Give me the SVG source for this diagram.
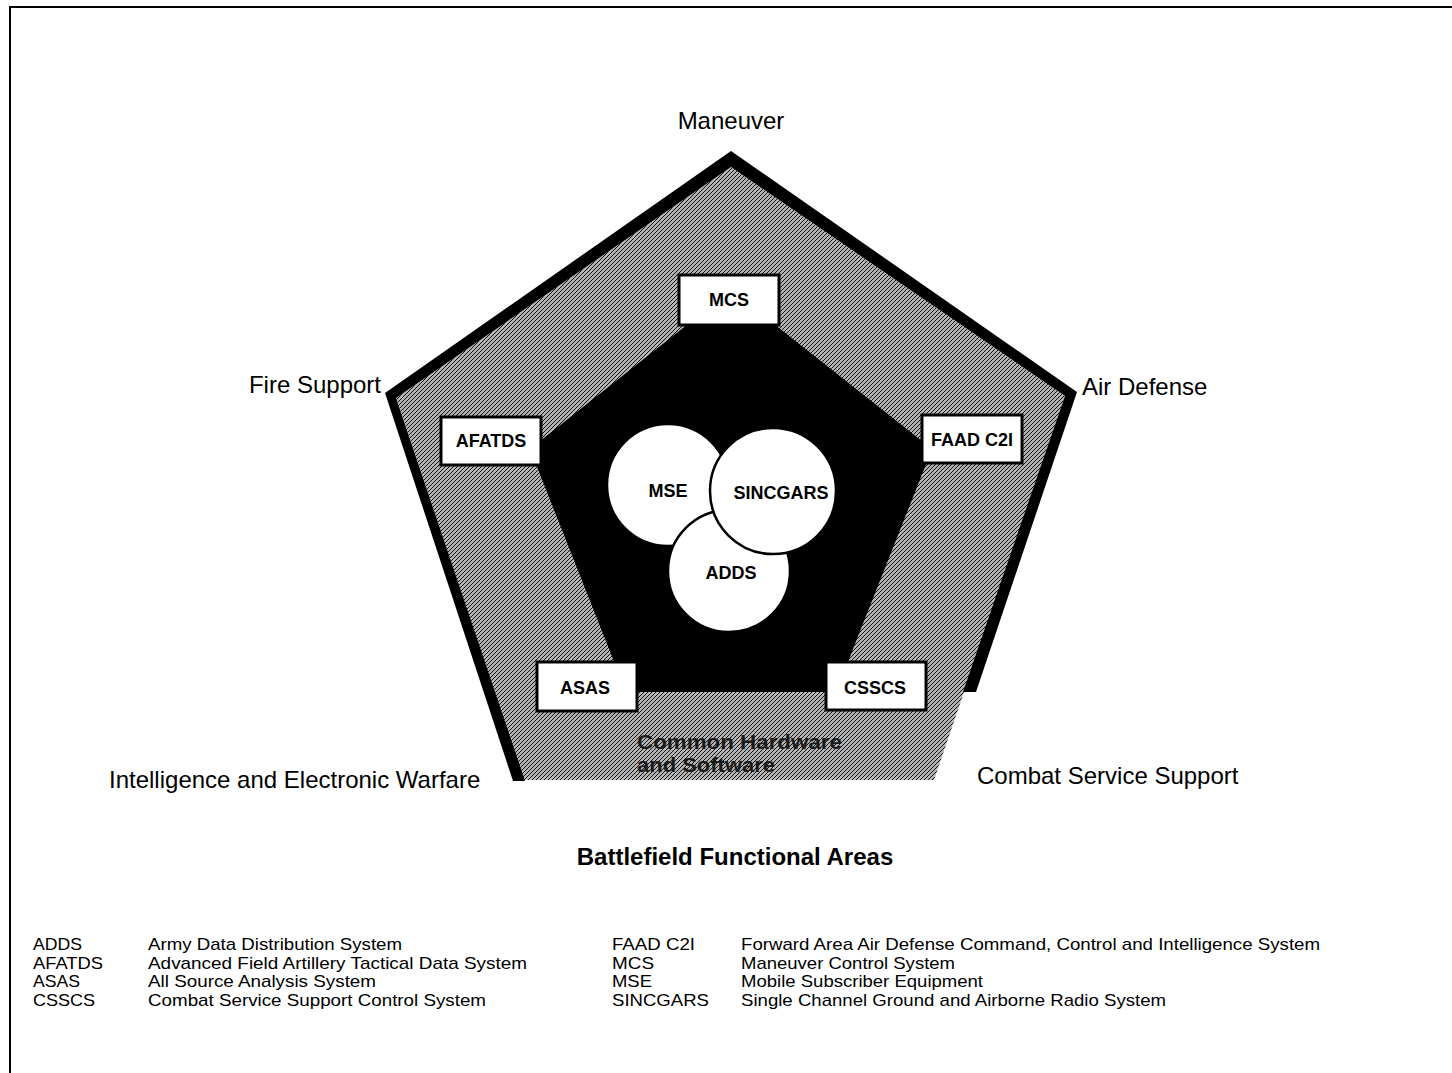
<svg xmlns="http://www.w3.org/2000/svg" width="1452" height="1073" viewBox="0 0 1452 1073">
<defs>
<pattern id="hatch" width="4" height="4" patternUnits="userSpaceOnUse">
<rect width="4" height="4" fill="#b4b4b4"/>
<path d="M-1,1 L1,-1 M0,4 L4,0 M3,5 L5,3" stroke="#111" stroke-width="1"/>
</pattern>
<style>
.lbl{font-family:"Liberation Sans",Arial,sans-serif;font-size:24px;fill:#000}
.box rect{fill:#fff;stroke:#000;stroke-width:3}
.box text{font-family:"Liberation Sans",Arial,sans-serif;font-size:18px;font-weight:bold;text-anchor:middle;fill:#000}
.circ circle{fill:#fff;stroke:#000;stroke-width:2.5}
.circ text{font-family:"Liberation Sans",Arial,sans-serif;font-size:18px;font-weight:bold;text-anchor:middle;fill:#000}
.leg{font-family:"Liberation Sans",Arial,sans-serif;font-size:17px;fill:#000}
.chs{font-family:"Liberation Sans",Arial,sans-serif;font-size:20px;font-weight:bold;fill:#1a1a1a}
</style>
</defs>
<rect width="1452" height="1073" fill="#fff"/>
<g id="frame" fill="none" stroke="#000" stroke-width="2">
<path d="M10,1073 L10,7 L1452,7"/>
</g>
<g id="pentagon">
<polygon points="396,398 731,167 1065,396 934,780 523,780" fill="url(#hatch)"/>
<polygon points="513,781 385,393 731,151 1077,392 976,692 963,692 1065,396 731,167 396,398 525,781" fill="#000"/>
<polygon points="731,290 530,449 626,692 836,692 932,449" fill="#000"/>
<text class="chs" x="637" y="749" textLength="205" lengthAdjust="spacingAndGlyphs">Common Hardware</text>
<text class="chs" x="637" y="772" textLength="138" lengthAdjust="spacingAndGlyphs">and Software</text>
</g>
<g id="connectors"></g>
<g id="circles" class="circ">
<g id="mse"><circle cx="668" cy="485" r="61"/><text x="668" y="497">MSE</text></g>
<g id="adds"><circle cx="729" cy="571" r="61"/><text x="731" y="579">ADDS</text></g>
<g id="sincgars"><circle cx="773" cy="491" r="63"/><text x="781" y="499">SINCGARS</text></g>
</g>
<g id="mcs" class="box"><rect x="679" y="275" width="100" height="50"/><text x="729" y="306">MCS</text></g>
<g id="afatds" class="box"><rect x="441" y="417" width="100" height="48"/><text x="491" y="447">AFATDS</text></g>
<g id="faad" class="box"><rect x="922" y="415" width="100" height="48"/><text x="972" y="446">FAAD C2I</text></g>
<g id="asas" class="box"><rect x="537" y="662" width="100" height="49"/><text x="585" y="694">ASAS</text></g>
<g id="csscs" class="box"><rect x="826" y="662" width="100" height="48"/><text x="875" y="694">CSSCS</text></g>
<g id="labels">
<text class="lbl" x="731" y="129" text-anchor="middle">Maneuver</text>
<text class="lbl" x="381" y="393" text-anchor="end">Fire Support</text>
<text class="lbl" x="1082" y="395">Air Defense</text>
<text class="lbl" x="109" y="788">Intelligence and Electronic Warfare</text>
<text class="lbl" x="977" y="784">Combat Service Support</text>
<text class="lbl" x="735" y="865" text-anchor="middle" font-weight="bold">Battlefield Functional Areas</text>
</g>
<g id="legend" class="leg" lengthAdjust="spacingAndGlyphs">
<text x="33" y="950" textLength="49" lengthAdjust="spacingAndGlyphs">ADDS</text>
<text x="148" y="950" textLength="254" lengthAdjust="spacingAndGlyphs">Army Data Distribution System</text>
<text x="33" y="968.5" textLength="70" lengthAdjust="spacingAndGlyphs">AFATDS</text>
<text x="148" y="968.5" textLength="379" lengthAdjust="spacingAndGlyphs">Advanced Field Artillery Tactical Data System</text>
<text x="33" y="987" textLength="47" lengthAdjust="spacingAndGlyphs">ASAS</text>
<text x="148" y="987" textLength="228" lengthAdjust="spacingAndGlyphs">All Source Analysis System</text>
<text x="33" y="1005.5" textLength="62" lengthAdjust="spacingAndGlyphs">CSSCS</text>
<text x="148" y="1005.5" textLength="338" lengthAdjust="spacingAndGlyphs">Combat Service Support Control System</text>
<text x="612" y="950" textLength="83" lengthAdjust="spacingAndGlyphs">FAAD C2I</text>
<text x="741" y="950" textLength="579" lengthAdjust="spacingAndGlyphs">Forward Area Air Defense Command, Control and Intelligence System</text>
<text x="612" y="968.5" textLength="42" lengthAdjust="spacingAndGlyphs">MCS</text>
<text x="741" y="968.5" textLength="214" lengthAdjust="spacingAndGlyphs">Maneuver Control System</text>
<text x="612" y="987" textLength="40" lengthAdjust="spacingAndGlyphs">MSE</text>
<text x="741" y="987" textLength="242" lengthAdjust="spacingAndGlyphs">Mobile Subscriber Equipment</text>
<text x="612" y="1005.5" textLength="97" lengthAdjust="spacingAndGlyphs">SINCGARS</text>
<text x="741" y="1005.5" textLength="425" lengthAdjust="spacingAndGlyphs">Single Channel Ground and Airborne Radio System</text>
</g>
</svg>
